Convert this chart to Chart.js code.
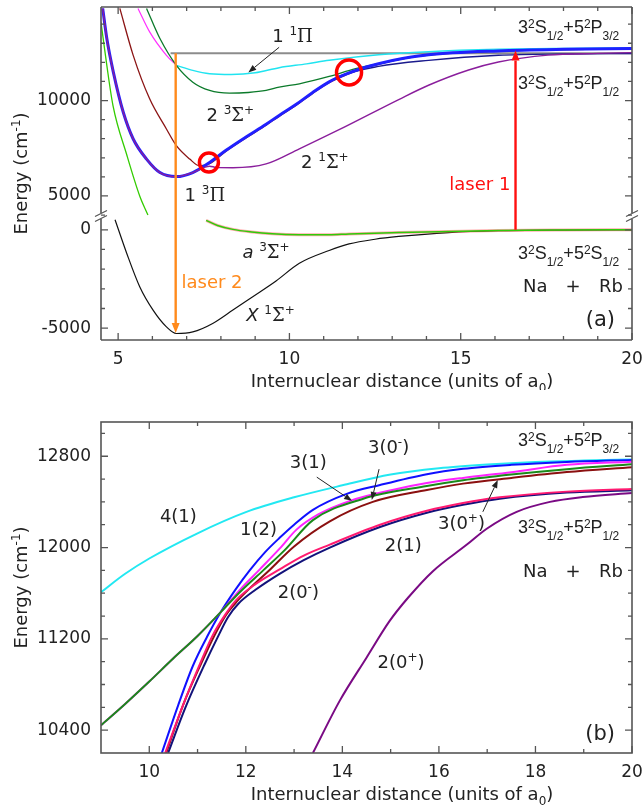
<!DOCTYPE html>
<html>
<head>
<meta charset="utf-8">
<script src="https://cdn.jsdelivr.net/npm/chart.js@4.4.1/dist/chart.umd.min.js"></script>
<style>
  html, body { margin: 0; padding: 0; background: #fff; }
  canvas { display: block; }
</style>
</head>
<body>
<canvas id="chartA" width="643" height="390"></canvas>
<canvas id="chartB" width="643" height="419"></canvas>
<script>
// ---------- panel (a): potential curves, r in a0, energy in cm-1 ----------
// upper part of the broken axis
const AIN_R = [4.5, 4.67, 4.85, 5.26, 5.63, 5.87];                 // a3Sigma+ inner wall
const AIN_E = [14100, 11840, 9737, 7105, 5000, 4000];
const P13_R = [4.55, 4.67, 4.86, 5.15, 5.44, 5.83, 6.22, 6.7, 7.18, 7.67, 8.15, 8.7, 9.32, 9.7, 10.2, 10.66, 11.16, 11.65, 12.1, 12.6, 13.3, 14.06, 16.1, 18, 20];
const P13_E = [14826, 13247, 11490, 9384, 7984, 6932, 6226, 6015, 6226, 6753, 7390, 8050, 8760, 9220, 9800, 10400, 10980, 11380, 11680, 11930, 12200, 12400, 12600, 12680, 12720];
const S21_R = [4.55, 4.67, 4.86, 5.15, 5.44, 5.83, 6.22, 6.7, 7.18, 7.67, 7.86, 8.35, 9.32, 10.29, 11.45, 13.19, 14.06, 15.23, 16.1, 17.55, 19.0, 20];
const S21_E = [14826, 13247, 11490, 9384, 7984, 6932, 6226, 6015, 6226, 6560, 6500, 6480, 6680, 7470, 8470, 10050, 10800, 11600, 12020, 12380, 12470, 12510];
const BR_R = [5.05, 5.44, 5.92, 6.41, 6.7, 7.09, 7.38, 7.67, 8.15, 8.7, 9.32, 9.7, 10.2, 10.66, 11.16, 11.65, 12.1, 12.6, 13.3, 14.06, 16.1, 18, 20];
const BR_E = [14826, 12368, 10089, 8510, 7632, 6932, 6579, 6690, 7340, 8000, 8710, 9170, 9750, 10350, 10930, 11340, 11650, 11900, 12180, 12380, 12590, 12670, 12710];
const NAV_R = [11.16, 11.45, 12.6, 14.06, 16.1, 18, 20];
const NAV_E = [10980, 11270, 11790, 12105, 12370, 12440, 12460];
const S23_R = [5.83, 6.22, 6.7, 7.18, 7.67, 8.25, 8.8, 9.32, 9.7, 10.29, 11.16, 11.93, 12.6, 14.06, 16.1, 18, 20];
const S23_E = [14826, 13247, 11842, 10963, 10526, 10385, 10420, 10526, 10700, 10877, 11263, 11667, 11930, 12400, 12590, 12670, 12710];
const P11_R = [6.7, 7.18, 7.67, 8.3, 9.0, 9.7, 10.5, 11.16, 12.6, 14.06, 16.1, 18, 20];
const P11_E = [11842, 11579, 11403, 11360, 11450, 11720, 11920, 12110, 12400, 12560, 12680, 12730, 12760];
const MAG_R = [5.58, 5.92, 6.41, 6.7];
const MAG_E = [14826, 13595, 12368, 11842];
const LEVEL_R = [6.53, 20];
const LEVEL_E = [12480, 12480];
const CIRC_R = [7.65, 11.74];
const CIRC_E = [6753, 11470];
// lower part of the broken axis
const X_R = [4.91, 5.25, 5.63, 6.02, 6.41, 6.7, 7.18, 7.76, 8.35, 8.93, 9.61, 10.29, 11.16, 11.74, 12.5, 13.19, 14.65, 16.1, 18, 20];
const X_E = [510, -1190, -2890, -4080, -4930, -5270, -5190, -4760, -4080, -3400, -2600, -1700, -1050, -720, -480, -340, -140, -50, -15, 0];
const A_R = [7.57, 7.9, 8.35, 8.9, 9.5, 10.29, 11.16, 11.74, 13.19, 14.65, 16.1, 18, 20];
const A_E = [475, 220, 20, -110, -200, -250, -255, -210, -140, -85, -35, -10, 0];

const A_X_MAJOR = [5, 10, 15, 20];
const A_X_MINOR = [6, 7, 8, 9, 11, 12, 13, 14, 16, 17, 18, 19];
const A_TOP_MAJOR = [5000, 10000];
const A_TOP_MINOR = [4000, 6000, 7000, 8000, 9000, 11000, 12000, 13000, 14000];
const A_BOT_MAJOR = [-5000, 0];
const A_BOT_MINOR = [-4000, -3000, -2000, -1000];

// ---------- panel (b): Hund's case (c) curves near the 5P asymptotes ----------
const C41_R = [9, 9.5, 10, 11, 12, 13, 14, 15, 16, 17, 18, 19, 20];
const C41_E = [11609, 11770, 11904, 12125, 12310, 12440, 12545, 12640, 12695, 12728, 12750, 12762, 12772];
const B12_R = [10.26, 10.6, 10.9, 11.2, 11.46, 11.8, 12.08, 12.4, 12.7, 13.0, 13.39, 14.09, 14.78, 15.75, 16.5, 17.5, 18.65, 20];
const B12_E = [10200, 10620, 10960, 11220, 11420, 11640, 11800, 11960, 12085, 12200, 12330, 12470, 12548, 12643, 12690, 12725, 12750, 12768];
const M31_R = [9, 9.5, 10, 10.5, 11, 11.5, 11.9, 12.29, 12.7, 13.05, 13.5, 14.16, 15.13, 15.75, 16.5, 17.5, 18.65, 20];
const M31_E = [10443, 10630, 10826, 11030, 11225, 11443, 11640, 11809, 11990, 12157, 12290, 12409, 12513, 12565, 12610, 12660, 12725, 12752];
const G30_R = [9, 9.5, 10, 10.5, 11, 11.5, 11.9, 12.36, 12.8, 13.39, 14.42, 15.75, 16.5, 17.5, 18.65, 20];
const G30_E = [10443, 10630, 10826, 11030, 11225, 11443, 11620, 11800, 11975, 12240, 12426, 12539, 12590, 12640, 12687, 12730];
const R30_R = [10.35, 10.7, 11.07, 11.35, 11.59, 11.82, 12.1, 12.46, 13.0, 13.74, 14.63, 15.75, 16.5, 17.5, 18.65, 20];
const R30_E = [10200, 10620, 10980, 11230, 11410, 11530, 11650, 11790, 12010, 12230, 12400, 12504, 12560, 12610, 12661, 12704];
const P21_R = [10.33, 10.7, 11.05, 11.3, 11.57, 11.8, 12.2, 12.7, 13.2, 13.74, 14.78, 15.75, 16.5, 17.26, 18.65, 20];
const P21_E = [10200, 10620, 10980, 11220, 11410, 11540, 11680, 11809, 11930, 12026, 12200, 12322, 12390, 12440, 12490, 12513];
const N20_R = [10.39, 10.75, 11.15, 11.4, 11.63, 11.85, 12.2, 12.7, 13.2, 13.74, 14.78, 15.75, 16.5, 17.26, 18.65, 20];
const N20_E = [10200, 10600, 10980, 11200, 11390, 11510, 11630, 11770, 11890, 12000, 12180, 12305, 12375, 12428, 12482, 12502];
const U20_R = [13.39, 13.95, 14.5, 14.98, 15.36, 15.87, 16.58, 16.99, 17.61, 18.3, 18.98, 20];
const U20_E = [10200, 10661, 11035, 11357, 11560, 11791, 12026, 12165, 12313, 12400, 12443, 12478];

const B_X_MAJOR = [10, 12, 14, 16, 18, 20];
const B_X_MINOR = [11, 13, 15, 17, 19];
const B_Y_MAJOR = [10400, 11200, 12000, 12800];
const B_Y_MINOR = [10600, 10800, 11000, 11400, 11600, 11800, 12200, 12400, 12600, 13000];

// ---------- helpers ----------
const SANS = '"DejaVu Sans", Arial, sans-serif';
const ARIAL = '"Liberation Sans", Arial, sans-serif';
const SERIF = '"DejaVu Serif", "Liberation Serif", serif';
const INK = '#222';
const AXIS = '#555';

const pts = (r, e) => r.map((v, i) => ({ x: v, y: e[i] }));

function curve(r, e, color, width, yId) {
  return {
    data: pts(r, e), yAxisID: yId, showLine: true,
    borderColor: color, borderWidth: width, pointRadius: 0,
    cubicInterpolationMode: 'monotone', fill: false
  };
}

// bottom-to-top list -> chart.js order (first dataset is drawn last)
const stackOrder = list => list.map((d, i) => Object.assign(d, { order: list.length - i }));

function rich(ctx, x, y, parts, o) {
  const size = o.size || 18, small = o.small || 12;
  const fam = o.family || SANS;
  const up = o.up !== undefined ? o.up : -0.38 * size;
  const down = o.down !== undefined ? o.down : 0.42 * size;
  const fontOf = k => {
    if (k === 'u' || k === 'd') return small + 'px ' + fam;
    if (k === 'g') return size + 'px ' + SERIF;
    if (k === 'i') return 'oblique ' + size + 'px ' + fam;
    return size + 'px ' + fam;
  };
  let w = 0;
  for (const [t, k] of parts) { ctx.font = fontOf(k); w += ctx.measureText(t).width; }
  let cx = o.align === 'right' ? x - w : o.align === 'center' ? x - w / 2 : x;
  ctx.textAlign = 'left';
  ctx.textBaseline = 'alphabetic';
  ctx.fillStyle = o.color || INK;
  for (const [t, k] of parts) {
    ctx.font = fontOf(k);
    ctx.fillText(t, cx, y + (k === 'u' ? up : k === 'd' ? down : 0));
    cx += ctx.measureText(t).width;
  }
}

function arrow(ctx, x1, y1, x2, y2, color, lw, hl, hw) {
  const ang = Math.atan2(y2 - y1, x2 - x1);
  const bx = x2 - hl * Math.cos(ang), by = y2 - hl * Math.sin(ang);
  ctx.strokeStyle = color; ctx.lineWidth = lw;
  ctx.beginPath(); ctx.moveTo(x1, y1); ctx.lineTo(bx, by); ctx.stroke();
  ctx.fillStyle = color;
  ctx.beginPath();
  ctx.moveTo(x2, y2);
  ctx.lineTo(bx + hw / 2 * Math.sin(ang), by - hw / 2 * Math.cos(ang));
  ctx.lineTo(bx - hw / 2 * Math.sin(ang), by + hw / 2 * Math.cos(ang));
  ctx.closePath(); ctx.fill();
}

function tickMarks(ctx, a, scale, vals, len, vertical) {
  ctx.beginPath();
  for (const v of vals) {
    const p = scale.getPixelForValue(v);
    if (vertical) {
      ctx.moveTo(a.left, p); ctx.lineTo(a.left + len, p);
      ctx.moveTo(a.right, p); ctx.lineTo(a.right - len, p);
    } else {
      ctx.moveTo(p, a.bottom); ctx.lineTo(p, a.bottom - len);
      ctx.moveTo(p, a.top); ctx.lineTo(p, a.top + len);
    }
  }
  ctx.stroke();
}

const STATE_P32 = [['3', ''], ['2', 'u'], ['S', ''], ['1/2', 'd'], ['+5', ''], ['2', 'u'], ['P', ''], ['3/2', 'd']];
const STATE_P12 = [['3', ''], ['2', 'u'], ['S', ''], ['1/2', 'd'], ['+5', ''], ['2', 'u'], ['P', ''], ['1/2', 'd']];
const STATE_S12 = [['3', ''], ['2', 'u'], ['S', ''], ['1/2', 'd'], ['+5', ''], ['2', 'u'], ['S', ''], ['1/2', 'd']];
const STATE_OPT = { size: 18, small: 12, up: -5, down: 7, family: ARIAL };

function energyTitle(ctx, cy) {
  ctx.save();
  ctx.translate(27, cy);
  ctx.rotate(-Math.PI / 2);
  rich(ctx, 0, 0, [['Energy (cm', ''], ['-1', 'u'], [')', '']], { size: 18, small: 12, up: -7, align: 'center' });
  ctx.restore();
}

function distanceTitle(ctx, y) {
  rich(ctx, 402, y, [['Internuclear distance (units of a', ''], ['0', 'd'], [')', '']], { size: 18, small: 12, down: 5, align: 'center' });
}

function naRb(ctx, y) {
  ctx.font = '18px ' + SANS; ctx.fillStyle = INK; ctx.textBaseline = 'alphabetic';
  ctx.textAlign = 'left'; ctx.fillText('Na', 523, y);
  ctx.textAlign = 'center'; ctx.fillText('+', 573, y);
  ctx.textAlign = 'right'; ctx.fillText('Rb', 623, y);
}

const tickFont = { family: SANS, size: 17 };
const fixedTicks = vals => scale => { scale.ticks = vals.map(v => ({ value: v })); };
const fitY = s => { s.width = 101; s.paddingTop = 0; s.paddingBottom = 0; };
const fitX = h => s => { s.height = h; s.paddingLeft = 0; s.paddingRight = 0; };
const noGrid = { display: false, drawTicks: false };

// ---------- panel (a) decorations ----------
const decorA = {
  id: 'decorA',
  afterDatasetsDraw(chart) {
    const { ctx, chartArea: a, scales } = chart;
    const X = scales.x, YT = scales.yTop, YB = scales.yBot;
    const px = v => X.getPixelForValue(v);
    const top = v => YT.getPixelForValue(v);
    const bot = v => YB.getPixelForValue(v);
    ctx.save();

    // laser arrows
    arrow(ctx, px(16.6), bot(0), px(16.6), top(12620), '#ff1010', 2.4, 10, 8);
    arrow(ctx, px(6.68), top(12480), px(6.68), bot(-5250), '#ff8a1c', 2.4, 10, 8);
    // pointer to 1 1Pi
    arrow(ctx, px(9.7), top(12790), px(8.8), top(11470), '#222', 1, 8, 6);

    // frame with axis break
    const b = YT.bottom;
    ctx.strokeStyle = AXIS; ctx.lineWidth = 1.6;
    ctx.beginPath();
    ctx.moveTo(a.left, a.top); ctx.lineTo(a.right, a.top);
    ctx.moveTo(a.left, a.bottom); ctx.lineTo(a.right, a.bottom);
    for (const xx of [a.left, a.right]) {
      ctx.moveTo(xx, a.top); ctx.lineTo(xx, b - 3);
      ctx.moveTo(xx, b + 3); ctx.lineTo(xx, a.bottom);
    }
    ctx.stroke();
    ctx.lineWidth = 1.2;
    ctx.beginPath();
    for (const xx of [a.left, a.right]) {
      for (const d of [-2.5, 2.5]) { ctx.moveTo(xx - 6, b + d + 3); ctx.lineTo(xx + 6, b + d - 3); }
    }
    ctx.stroke();

    ctx.lineWidth = 1.3;
    tickMarks(ctx, a, X, A_X_MAJOR, 7, false);
    tickMarks(ctx, a, X, A_X_MINOR, 4, false);
    tickMarks(ctx, a, YT, A_TOP_MAJOR, 7, true);
    tickMarks(ctx, a, YT, A_TOP_MINOR, 4, true);
    tickMarks(ctx, a, YB, A_BOT_MAJOR, 7, true);
    tickMarks(ctx, a, YB, A_BOT_MINOR, 4, true);

    // labels
    const lab = { size: 18, small: 12, up: -7 };
    rich(ctx, px(9.5), top(13050), [['1 ', ''], ['1', 'u'], ['Π', 'g']], lab);
    rich(ctx, px(7.58), top(8950), [['2 ', ''], ['3', 'u'], ['Σ', 'g'], ['+', 'u']], lab);
    rich(ctx, px(6.94), top(4740), [['1 ', ''], ['3', 'u'], ['Π', 'g']], lab);
    rich(ctx, px(10.34), top(6474), [['2 ', ''], ['1', 'u'], ['Σ', 'g'], ['+', 'u']], lab);
    rich(ctx, px(8.63), bot(-1430), [['a', 'i'], [' ', ''], ['3', 'u'], ['Σ', 'g'], ['+', 'u']], lab);
    rich(ctx, px(8.74), bot(-4643), [['X', 'i'], [' ', ''], ['1', 'u'], ['Σ', 'g'], ['+', 'u']], lab);
    rich(ctx, px(16.45), top(5316), [['laser 1', '']], { size: 18, color: '#ff1010', align: 'right' });
    rich(ctx, px(6.85), bot(-2960), [['laser 2', '']], { size: 18, color: '#ff8a1c' });
    rich(ctx, 518, 33, STATE_P32, STATE_OPT);
    rich(ctx, 518, 89, STATE_P12, STATE_OPT);
    rich(ctx, 518, 259, STATE_S12, STATE_OPT);
    naRb(ctx, 292);
    rich(ctx, 615, 326, [['(a)', '']], { size: 21, align: 'right' });

    energyTitle(ctx, (a.top + a.bottom) / 2);
    distanceTitle(ctx, 387);
    ctx.restore();
  }
};

// ---------- panel (b) decorations ----------
const decorB = {
  id: 'decorB',
  afterDatasetsDraw(chart) {
    const { ctx, chartArea: a, scales } = chart;
    const X = scales.x, Y = scales.y;
    const px = v => X.getPixelForValue(v);
    const py = v => Y.getPixelForValue(v);
    ctx.save();

    arrow(ctx, px(13.47), py(12617), px(14.2), py(12409), '#222', 1, 8, 6);
    arrow(ctx, px(14.76), py(12687), px(14.61), py(12417), '#222', 1, 8, 6);
    arrow(ctx, px(16.91), py(12313), px(17.22), py(12591), '#222', 1, 8, 6);

    ctx.strokeStyle = AXIS; ctx.lineWidth = 1.6;
    ctx.strokeRect(a.left, a.top, a.right - a.left, a.bottom - a.top);
    ctx.lineWidth = 1.3;
    tickMarks(ctx, a, X, B_X_MAJOR, 7, false);
    tickMarks(ctx, a, X, B_X_MINOR, 4, false);
    tickMarks(ctx, a, Y, B_Y_MAJOR, 7, true);
    tickMarks(ctx, a, Y, B_Y_MINOR, 4, true);

    const lab = { size: 18, small: 12, up: -7 };
    rich(ctx, px(10.22), py(12226), [['4(1)', '']], lab);
    rich(ctx, px(11.88), py(12113), [['1(2)', '']], lab);
    rich(ctx, px(12.91), py(12696), [['3(1)', '']], lab);
    rich(ctx, px(14.53), py(12826), [['3(0', ''], ['-', 'u'], [')', '']], lab);
    rich(ctx, px(14.88), py(11974), [['2(1)', '']], lab);
    rich(ctx, px(15.98), py(12165), [['3(0', ''], ['+', 'u'], [')', '']], lab);
    rich(ctx, px(12.66), py(11557), [['2(0', ''], ['-', 'u'], [')', '']], lab);
    rich(ctx, px(14.73), py(10948), [['2(0', ''], ['+', 'u'], [')', '']], lab);
    rich(ctx, 518, 446 - 390, STATE_P32, STATE_OPT);
    rich(ctx, 518, 533 - 390, STATE_P12, STATE_OPT);
    naRb(ctx, 577 - 390);
    rich(ctx, 615, 740 - 390, [['(b)', '']], { size: 21, align: 'right' });

    energyTitle(ctx, (a.top + a.bottom) / 2);
    distanceTitle(ctx, 800 - 390);
    ctx.restore();
  }
};

// ---------- chart (a) ----------
const circles = {
  data: pts(CIRC_R, CIRC_E), yAxisID: 'yTop', showLine: false,
  pointRadius: [9.5, 12.5], pointBorderWidth: 3.5, pointHoverRadius: [9.5, 12.5],
  pointBorderColor: '#ff0000', pointBackgroundColor: 'rgba(0,0,0,0)'
};

new Chart(document.getElementById('chartA'), {
  type: 'scatter',
  data: {
    datasets: stackOrder([
      curve(LEVEL_R, LEVEL_E, '#8c8c8c', 2, 'yTop'),
      curve(MAG_R, MAG_E, '#ff30ff', 1.2, 'yTop'),
      curve(P11_R, P11_E, '#20e4f0', 1.5, 'yTop'),
      curve(S23_R, S23_E, '#0b7a2a', 1.3, 'yTop'),
      curve(BR_R, BR_E, '#8b1414', 1.3, 'yTop'),
      curve(NAV_R, NAV_E, '#1a1a8c', 1.4, 'yTop'),
      curve(P13_R, P13_E, '#2020ff', 3, 'yTop'),
      curve(S21_R, S21_E, '#8a1e9c', 1.4, 'yTop'),
      curve(AIN_R, AIN_E, '#33cc00', 1.3, 'yTop'),
      curve(X_R, X_E, '#111111', 1.2, 'yBot'),
      curve(A_R, A_E, 'rgba(255,70,70,0.45)', 3, 'yBot'),
      curve(A_R, A_E, '#2ecc0a', 1.5, 'yBot'),
      circles
    ])
  },
  options: {
    responsive: false,
    animation: false,
    events: [],
    layout: { autoPadding: false, padding: { top: 7, right: 11, left: 0, bottom: 0 } },
    plugins: { legend: { display: false }, tooltip: { enabled: false } },
    scales: {
      x: {
        type: 'linear', min: 4.5, max: 20,
        grid: noGrid, border: { display: false },
        afterBuildTicks: fixedTicks(A_X_MAJOR),
        afterFit: fitX(50),
        ticks: { font: tickFont, color: INK, padding: 9, autoSkip: false, maxRotation: 0 }
      },
      yTop: {
        type: 'linear', position: 'left', stack: 'energy', stackWeight: 209, weight: 2,
        min: 3950, max: 14900,
        grid: noGrid, border: { display: false },
        afterBuildTicks: fixedTicks(A_TOP_MAJOR),
        afterFit: fitY,
        ticks: { font: tickFont, color: INK, padding: 10, autoSkip: false, callback: v => String(v) }
      },
      yBot: {
        type: 'linear', position: 'left', stack: 'energy', stackWeight: 124, weight: 1,
        min: -5600, max: 700,
        grid: noGrid, border: { display: false },
        afterBuildTicks: fixedTicks(A_BOT_MAJOR),
        afterFit: fitY,
        ticks: { font: tickFont, color: INK, padding: 10, autoSkip: false, callback: v => String(v) }
      }
    }
  },
  plugins: [decorA]
});

// ---------- chart (b) ----------
new Chart(document.getElementById('chartB'), {
  type: 'scatter',
  data: {
    datasets: stackOrder([
      curve(C41_R, C41_E, '#22e8f2', 2, 'y'),
      curve(B12_R, B12_E, '#1010ff', 2, 'y'),
      curve(R30_R, R30_E, '#8b1010', 2, 'y'),
      curve(M31_R, M31_E, '#ff22ff', 2, 'y'),
      curve(G30_R, G30_E, '#1a8a1a', 2, 'y'),
      curve(N20_R, N20_E, '#12127a', 2, 'y'),
      curve(P21_R, P21_E, '#ff1a70', 2, 'y'),
      curve(U20_R, U20_E, '#7a0a84', 2, 'y')
    ])
  },
  options: {
    responsive: false,
    animation: false,
    events: [],
    layout: { autoPadding: false, padding: { top: 32, right: 11, left: 0, bottom: 0 } },
    plugins: { legend: { display: false }, tooltip: { enabled: false } },
    scales: {
      x: {
        type: 'linear', min: 9, max: 20,
        grid: noGrid, border: { display: false },
        afterBuildTicks: fixedTicks(B_X_MAJOR),
        afterFit: fitX(56),
        ticks: { font: tickFont, color: INK, padding: 9, autoSkip: false, maxRotation: 0 }
      },
      y: {
        type: 'linear', position: 'left', min: 10200, max: 13100,
        grid: noGrid, border: { display: false },
        afterBuildTicks: fixedTicks(B_Y_MAJOR),
        afterFit: fitY,
        ticks: { font: tickFont, color: INK, padding: 10, autoSkip: false, callback: v => String(v) }
      }
    }
  },
  plugins: [decorB]
});
</script>
</body>
</html>
